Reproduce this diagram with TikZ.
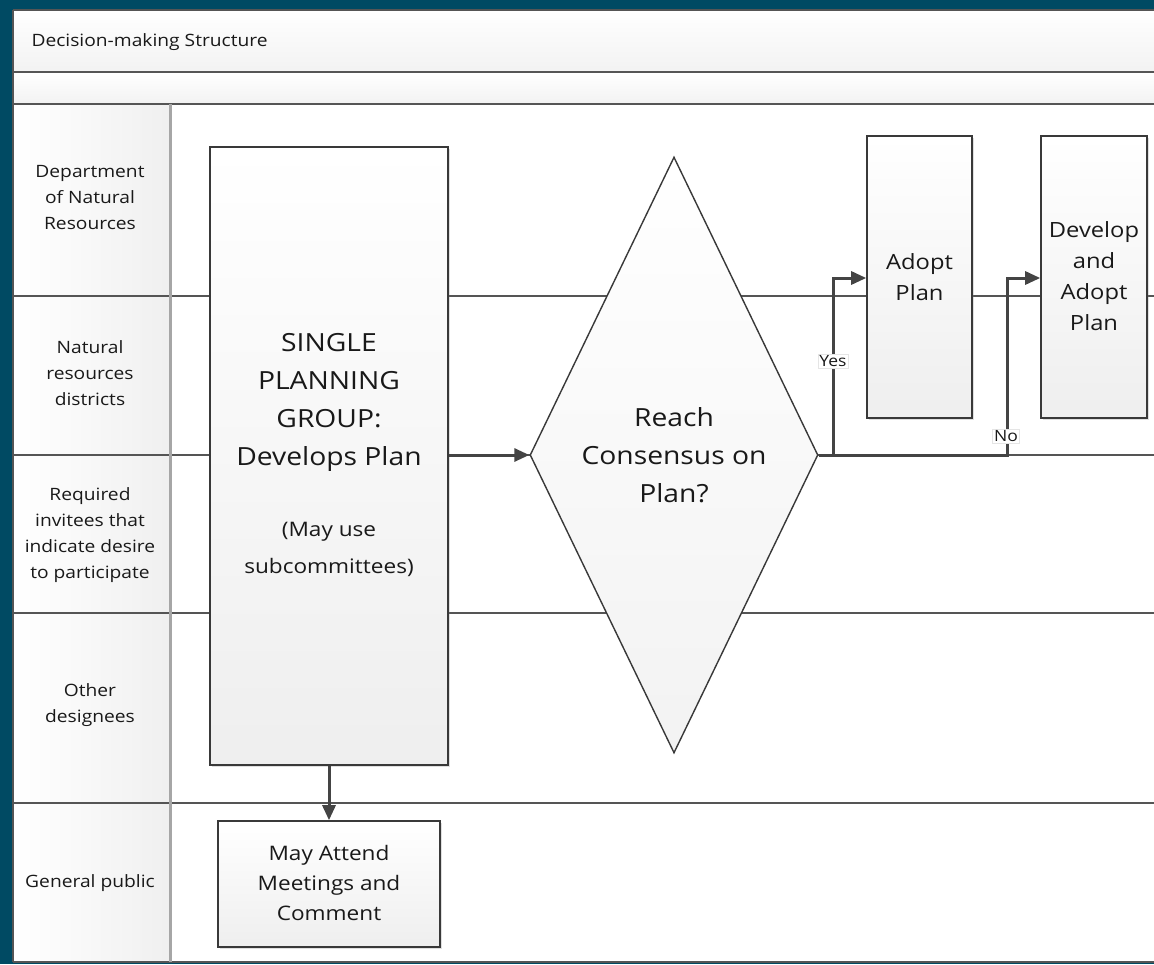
\documentclass[tikz,border=0pt]{standalone}
\usepackage{fontspec}
\setmainfont{Open Sans}[FakeStretch=1.13]
\usetikzlibrary{shapes.geometric,shadows,arrows.meta}
\definecolor{frame}{HTML}{004A63}
\definecolor{lineg}{HTML}{555555}
\definecolor{arrowg}{HTML}{444444}
\tikzset{
  lane/.style={draw=lineg, line width=2pt},
  lanelabel/.style={align=center, font=\fontsize{17}{26}\selectfont, text=black!90},
  procbox/.style={draw=gray!45!black, line width=1.6pt, top color=white, bottom color=gray!13,
    drop shadow={shadow xshift=2pt, shadow yshift=-2pt, opacity=0.25, fill=gray}},
  conn/.style={draw=arrowg, line width=3pt, -{Triangle[length=15pt,width=13pt]}},
  tag/.style={fill=white, draw=gray!20, inner sep=1.5pt, font=\fontsize{15.5}{15}\selectfont, text=black!90},
  boxtext/.style={align=center, text=black!90},
}
\begin{document}
\begin{tikzpicture}[x=1pt,y=-1pt]
\useasboundingbox (0,0) rectangle (1154,964);
\fill[frame] (0,0) rectangle (1154,964);
% background areas
\fill[white] (13,10) rectangle (1154,962);
\shade[top color=white, bottom color=gray!10] (13,10) rectangle (1154,72);
\shade[top color=white, bottom color=gray!10] (13,72) rectangle (1154,104);
\shade[left color=white, right color=gray!12] (14,104) rectangle (170,962);
% frame lines
\draw[lane] (13,10) -- (1154,10);
\draw[lane] (13,72) -- (1154,72);
\draw[lane] (13,104) -- (1154,104);
\draw[lane] (13,296) -- (1154,296);
\draw[lane] (13,455) -- (1154,455);
\draw[lane] (13,613) -- (1154,613);
\draw[lane] (13,803) -- (1154,803);
\draw[lane] (13,962) -- (1154,962);
\draw[lane] (13,10) -- (13,962);
\draw[draw=gray!70, line width=3pt] (170,104) -- (170,962);
% title
\node[anchor=west, font=\fontsize{17}{20}\selectfont, text=black!90] (title) at (28,42) {Decision-making Structure};
% lane labels
\node[lanelabel] (l1) at (90,198) {Department\\of Natural\\Resources};
\node[lanelabel] (l2) at (90,373) {Natural\\resources\\districts};
\node[lanelabel] (l3) at (90,535) {Required\\invitees that\\indicate desire\\to participate};
\node[lanelabel] (l4) at (90,705) {Other\\designees};
\node[lanelabel] (l5) at (90,883) {General public};
% main box
\node[procbox, minimum width=238pt, minimum height=618pt, inner sep=0pt] (spg) at (329,456) {};
\node[boxtext, font=\fontsize{25}{38}\selectfont] (spgt) at (329,402) {SINGLE\\PLANNING\\GROUP:\\Develops Plan};
\node[boxtext, font=\fontsize{20}{37}\selectfont] (spgs) at (329,549) {(May use\\subcommittees)};
% diamond
\node[diamond, draw=gray!45!black, line width=1.4pt, top color=white, bottom color=gray!10,
  minimum width=288pt, minimum height=596pt, inner sep=0pt] (dia) at (674,455) {};
\node[boxtext, font=\fontsize{25}{38}\selectfont] (diat) at (674,455) {Reach\\Consensus on\\Plan?};
% adopt boxes
\node[procbox, minimum width=105pt, minimum height=282pt, inner sep=0pt] (adopt) at (919.5,277) {};
\node[boxtext, font=\fontsize{21}{31}\selectfont] (adoptt) at (919.5,277) {Adopt\\Plan};
\node[procbox, minimum width=106pt, minimum height=282pt, inner sep=0pt] (dev) at (1094,277) {};
\node[boxtext, font=\fontsize{21}{31}\selectfont] (devt) at (1094,276) {Develop\\and\\Adopt\\Plan};
% public box
\node[procbox, minimum width=222pt, minimum height=126pt, inner sep=0pt] (pub) at (329,884) {};
\node[boxtext, font=\fontsize{20}{30}\selectfont] (pubt) at (329,883) {May Attend\\Meetings and\\Comment};
% connectors
\coordinate (yesk) at (833,455);
\coordinate (nok) at (1007,455);
\draw[conn] (spg.east |- dia.west) -- (dia.west);
\draw[conn] (spg.south) -- (pub.north);
\draw[conn] (dia.east) -- (yesk) |- ([yshift=-1pt]adopt.west);
\draw[conn] (dia.east) -- (nok) |- ([yshift=-1pt]dev.west);
\node[tag] (yes) at (833,361) {Yes};
\node[tag] (no) at (1006,436) {No};
\end{tikzpicture}
\end{document}
